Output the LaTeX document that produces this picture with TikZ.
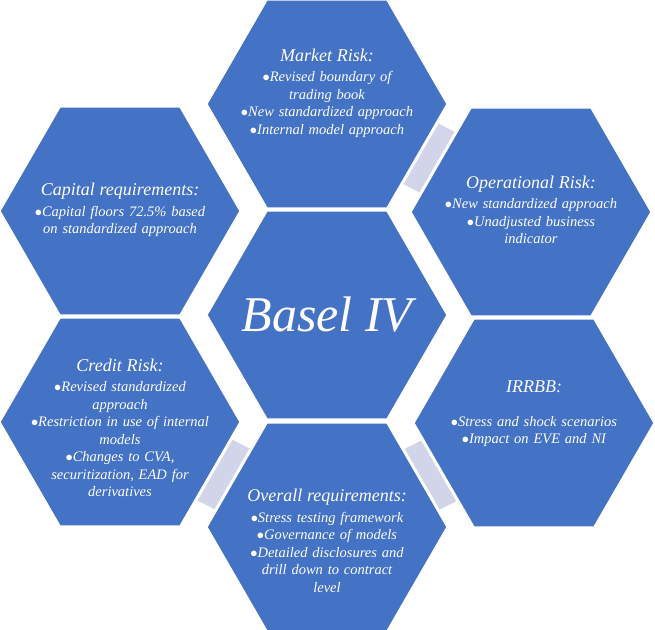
\documentclass[tikz,border=0pt]{standalone}
\usepackage{fontspec}
\setmainfont{Liberation Serif}
\usetikzlibrary{shapes.geometric}
\definecolor{hexblue}{RGB}{68,114,196}
\definecolor{striplav}{RGB}{210,213,234}
\tikzset{hexa/.style={regular polygon, regular polygon sides=6, minimum size=242pt, inner sep=0pt, fill=hexblue, draw=white, line width=3pt}}
\tikzset{strip/.style={striplav, line width=70pt}}
\tikzset{hextext/.style={text=white, align=center, font=\itshape\fontsize{14.5}{17.5}\selectfont, text width=215pt}}
\newcommand{\hd}[2][3pt]{{\fontsize{18}{22}\selectfont #2}\\[#1]}
\begin{document}
\begin{tikzpicture}[x=1pt, y=-1pt]
  \useasboundingbox (0,0) rectangle (655,629);

  \coordinate (mktc) at (327,104);
  \coordinate (opc) at (531,212);
  \coordinate (irc) at (534,423);
  \coordinate (ovc) at (327,527);
  \coordinate (crc) at (120,422);
  \coordinate (capc) at (120,211);

  % light strips behind the outer ring
  \draw[strip] (mktc) -- (opc);
  \draw[strip] (opc) -- (irc);
  \draw[strip] (irc) -- (ovc);
  \draw[strip] (ovc) -- (crc);
  \draw[strip] (crc) -- (capc);

  \node[hexa] (mkt) at (mktc) {};
  \node[hexa] (op) at (opc) {};
  \node[hexa] (irr) at (irc) {};
  \node[hexa] (ov) at (ovc) {};
  \node[hexa] (cr) at (crc) {};
  \node[hexa] (cap) at (capc) {};
  \node[hexa] (basel) at (327,315) {};

  \node[text=white, font=\itshape\fontsize{50}{52}\selectfont] (basel-txt) at (basel) {Basel IV};

  \node[hextext] (mkt-txt) at (327,93) {\hd{Market Risk:}
    $\bullet$Revised boundary of\\trading book\\
    $\bullet$New standardized approach\\
    $\bullet$Internal model approach};
  \node[hextext] (op-txt) at (531,210) {\hd{Operational Risk:}
    $\bullet$New standardized approach\\
    $\bullet$Unadjusted business\\indicator};
  \node[hextext] (irr-txt) at (534,414) {\hd[16pt]{IRRBB:}
    $\bullet$Stress and shock scenarios\\
    $\bullet$Impact on EVE and NI};
  \node[hextext] (ov-txt) at (327,541) {\hd{Overall requirements:}
    $\bullet$Stress testing framework\\
    $\bullet$Governance of models\\
    $\bullet$Detailed disclosures and\\drill down to contract\\level};
  \node[hextext] (cr-txt) at (120,428) {\hd{Credit Risk:}
    $\bullet$Revised standardized\\approach\\
    $\bullet$Restriction in use of internal\\models\\
    $\bullet$Changes to CVA,\\securitization, EAD for\\derivatives};
  \node[hextext] (cap-txt) at (120,210) {\hd{Capital requirements:}
    $\bullet$Capital floors 72.5\% based\\on standardized approach};
\end{tikzpicture}
\end{document}
